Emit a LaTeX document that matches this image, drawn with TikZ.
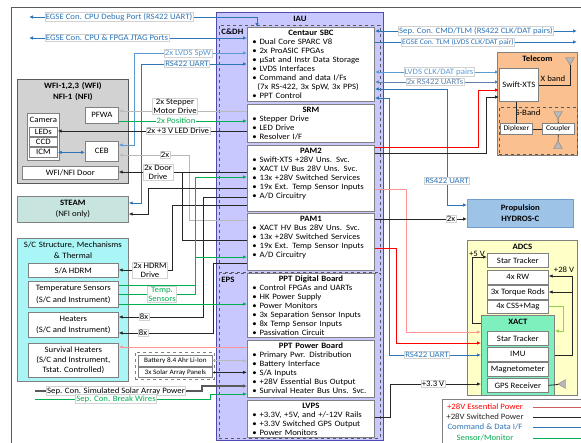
\documentclass[tikz,border=0pt]{standalone}
\usepackage{fontspec}
\setmainfont{Carlito}[FakeStretch=1.07]
\usetikzlibrary{arrows.meta, positioning, shapes.geometric}

\definecolor{cmdblue}{RGB}{46,117,182}
\definecolor{spwblue}{RGB}{91,155,213}
\definecolor{uartblue}{RGB}{95,130,170}
\definecolor{sensgreen}{RGB}{0,176,80}
\definecolor{cssgreen}{RGB}{146,208,80}
\definecolor{pwrblack}{RGB}{38,38,38}
\definecolor{essred}{RGB}{255,0,0}
\definecolor{pinkred}{RGB}{255,150,150}
\definecolor{legred}{RGB}{200,95,95}
\definecolor{iaufill}{RGB}{200,200,255}
\definecolor{wfifill}{RGB}{210,210,210}
\definecolor{steamfill}{RGB}{200,228,222}
\definecolor{scfill}{RGB}{170,245,245}
\definecolor{telfill}{RGB}{250,192,143}
\definecolor{propfill}{RGB}{157,195,230}
\definecolor{adcsfill}{RGB}{255,255,200}
\definecolor{xactfill}{RGB}{125,240,190}

\newcommand{\fsz}{\fontsize{8.2}{9}\selectfont}
\newcommand{\fsm}{\fontsize{7.2}{9}\selectfont}
\newcommand{\ttl}[1]{\hfill\textbf{#1}\hfill\null}
\newcommand{\bul}{\hspace*{2pt}\textbullet\ }

\begin{document}
\begin{tikzpicture}[x=1pt, y=-1pt,
  >={Latex[length=4pt,width=3.5pt]},
  every node/.style={font=\fsz},
  grp/.style={draw=gray, line width=0.8pt, anchor=north west, align=center,
    inner sep=2pt, text height=7pt},
  ibox/.style={draw=gray, line width=0.9pt, fill=white, anchor=north west,
    align=left, inner xsep=3pt, inner ysep=2pt, text width=121pt, text height=6pt},
  sbox/.style={draw=gray, line width=0.7pt, fill=white, anchor=north west,
    align=center, inner sep=0.5pt},
  lbl/.style={fill=white, draw=gray!35, line width=0.4pt, inner sep=0.8pt, align=center},
  ant/.style={regular polygon, regular polygon sides=3, fill=gray!55, draw=gray,
    inner sep=0pt, minimum size=10pt},
  wire/.style={line width=0.8pt},
  cmd/.style={wire, draw=cmdblue},
  spw/.style={wire, draw=spwblue},
  uart/.style={wire, draw=uartblue},
  sens/.style={wire, draw=sensgreen},
  cssw/.style={wire, draw=cssgreen},
  pwr/.style={wire, draw=pwrblack},
  lgw/.style={wire, draw=gray!55},
  dgw/.style={line width=1.3pt, draw=gray!70!black},
  ess/.style={wire, draw=essred},
  lred/.style={wire, draw=pinkred}]
\useasboundingbox (0,0) rectangle (581,442);
\draw[gray!70!black, line width=0.8pt] (11,450) -- (11,7) -- (590,7);

% IAU
\node[grp, fill=iaufill, draw=gray!60!blue, text width=163pt, text depth=417pt,
  font=\fsz\bfseries] (iau) at (216,12) {IAU};
\node[grp, dashed, draw=gray!70!black, align=left, text width=157pt,
  text depth=236pt] (cdh) at (219,25) {\textbf{C\&DH}};
\node[grp, dashed, draw=gray!70!black, align=left, text width=157pt,
  text depth=154pt] (eps) at (219,273) {\textbf{EPS}};

\node[ibox, text depth=64pt] (sbc) at (247,27) {\ttl{Centaur SBC}\\
  \bul Dual Core SPARC V8\\
  \bul 2x ProASIC FPGAs\\
  \bul µSat and Instr Data Storage\\
  \bul LVDS Interfaces\\
  \bul Command and data I/Fs\\
  \hspace*{7pt}(7x RS-422, 3x SpW, 3x PPS)\\
  \bul PPT Control};
\node[ibox, text depth=28pt] (srm) at (247,104) {\ttl{SRM}\\
  \bul Stepper Drive\\
  \bul LED Drive\\
  \bul Resolver I/F};
\node[ibox, text depth=56pt] (pam2) at (247,145) {\ttl{PAM2}\\
  \bul Swift-XTS +28V Uns. Svc.\\
  \bul XACT LV Bus 28V Uns. Svc.\\
  \bul 13x +28V Switched Services\\
  \bul 19x Ext. Temp Sensor Inputs\\
  \bul A/D Circuitry};
\node[ibox, text depth=47pt] (pam1) at (247,213) {\ttl{PAM1}\\
  \bul XACT HV Bus 28V Uns. Svc.\\
  \bul 13x +28V Switched Services\\
  \bul 19x Ext. Temp Sensor Inputs\\
  \bul A/D Circuitry};
\node[ibox, text depth=54pt] (pptd) at (247,273) {\ttl{PPT Digital Board}\\
  \bul Control FPGAs and UARTs\\
  \bul HK Power Supply\\
  \bul Power Monitors\\
  \bul 3x Separation Sensor Inputs\\
  \bul 8x Temp Sensor Inputs\\
  \bul Passivation Circuit};
\node[ibox, text depth=47pt] (pptp) at (247,340) {\ttl{PPT Power Board}\\
  \bul Primary Pwr. Distribution\\
  \bul Battery Interface\\
  \bul S/A Inputs\\
  \bul +28V Essential Bus Output\\
  \bul Survival Heater Bus Uns. Svc.};
\node[ibox, text depth=27pt] (lvps) at (247,400) {\ttl{LVPS}\\
  \bul +3.3V, +5V, and +/-12V Rails\\
  \bul +3.3V Switched GPS Output\\
  \bul Power Monitors};

% WFI / NFI
\node[grp, fill=wfifill, draw=gray!70!black, text width=107pt, text depth=93pt,
  font=\fsz\bfseries] (wfi) at (17,79) {WFI-1,2,3 (WFI)\\[2pt]NFI-1 (NFI)};
\node[sbox, minimum width=33pt, minimum height=16pt] (pfwa) at (85,107) {PFWA};
\node[grp, fill=white, minimum width=32pt, text depth=36pt, inner xsep=0pt] (cam) at (27,113) {Camera};
\node[sbox, minimum width=28pt, minimum height=9pt] (leds) at (29,127) {LEDs};
\node[sbox, minimum width=28pt, minimum height=9pt] (ccd) at (29,137) {CCD};
\node[sbox, minimum width=28pt, minimum height=10pt] (icm) at (29,147) {ICM};
\node[sbox, minimum width=33pt, minimum height=20pt] (ceb) at (85,141) {CEB};
\node[sbox, minimum width=96pt, minimum height=13pt] (door) at (22,166) {WFI/NFI Door};

\node[sbox, fill=steamfill, minimum width=111pt, minimum height=26pt]
  (steam) at (17,196) {\textbf{STEAM}\\[2pt](NFI only)};

% S/C structure
\node[grp, fill=scfill, text width=109pt, inner xsep=1pt, text depth=132pt] (scs) at (17,238)
  {S/C Structure, Mechanisms\\[2pt]\& Thermal};
\node[sbox, minimum width=90pt, minimum height=14pt] (hdrm) at (28,263) {S/A HDRM};
\node[sbox, minimum width=90pt, minimum height=26pt] (temp) at (28,281)
  {Temperature Sensors\\[3pt](S/C and Instrument)};
\node[sbox, minimum width=90pt, minimum height=25pt] (heat) at (28,312)
  {Heaters\\[2pt](S/C and Instrument)};
\node[sbox, minimum width=90pt, minimum height=34pt] (surv) at (28,343)
  {Survival Heaters\\[1pt](S/C and Instrument,\\[1pt]Tstat. Controlled)};

\node[draw=gray, dashed, line width=0.7pt, anchor=north west, minimum width=79pt,
  minimum height=27pt] (batgrp) at (135,352) {};
\node[sbox, font=\fontsize{6.8}{8}\selectfont, minimum width=74pt, minimum height=11pt]
  (bat) at (138,355) {Battery 8.4 Ahr Li-Ion};
\node[sbox, font=\fontsize{6.8}{8}\selectfont, minimum width=74pt, minimum height=10pt]
  (sol) at (138,367) {3x Solar Array Panels};

% Telecom
\node[grp, fill=telfill, text width=76pt, text depth=92pt, font=\fsz\bfseries]
  (tel) at (497,52) {Telecom};
\node[sbox, minimum width=39pt, minimum height=33pt] (xts) at (499,68) {Swift-XTS};
\node[draw=gray!70!black, dashed, line width=0.6pt, anchor=north west,
  minimum width=78pt, minimum height=47pt] (sband) at (499,107) {};
\node (sbl) at (528,113) {S-Band};
\node[sbox, minimum width=32pt, minimum height=11pt, font=\fsm] (dipl) at (500,123) {Diplexer};
\node[sbox, minimum width=32pt, minimum height=11pt, font=\fsm] (coup) at (542,123) {Coupler};
\node[ant, shape border rotate=180] (antx) at (570,60) {};
\node[ant, shape border rotate=180] (ants) at (558,114) {};
\node[ant] (antb) at (558,146) {};
\node (xbl) at (553,79) {X band};

% Propulsion
\node[sbox, fill=propfill, draw=cmdblue!70, minimum width=106pt, minimum height=28pt,
  font=\fsz\bfseries] (prop) at (467,199) {Propulsion\\[2pt]HYDROS-C};

% ADCS
\node[grp, fill=adcsfill, text width=106pt, text depth=144pt, font=\fsz\bfseries]
  (adcs) at (467,240) {ADCS};
\node[sbox, minimum width=61pt, minimum height=14pt] (st1) at (487,253) {Star Tracker};
\node[sbox, minimum width=61pt, minimum height=14pt] (rw) at (487,270) {4x RW};
\node[sbox, minimum width=61pt, minimum height=14pt] (tr) at (487,285) {3x Torque Rods};
\node[sbox, minimum width=61pt, minimum height=13pt] (css) at (487,300) {4x CSS+Mag};
\node[grp, fill=xactfill, text width=69pt, text depth=69pt, font=\fsz\bfseries]
  (xact) at (481,315) {XACT};
\node[sbox, minimum width=61pt, minimum height=14pt] (st2) at (487,331) {Star Tracker};
\node[sbox, minimum width=61pt, minimum height=14pt] (imu) at (487,347) {IMU};
\node[sbox, minimum width=61pt, minimum height=14pt] (mag) at (487,362) {Magnetometer};
\node[sbox, minimum width=61pt, minimum height=14pt] (gps) at (487,378) {GPS Receiver};
\node[ant, shape border rotate=90] (antg) at (563,384) {};
\node (p5v) at (477,254) {+5 V};
\node (p28v) at (564,270) {+28 V};

% connectors, left side
\coordinate (egdbg) at (29,17);
\coordinate (egjtag) at (29,38);
\coordinate (simpw) at (35,391);
\coordinate (brkw) at (35,399);
\draw[cmd,<->] (egdbg) -| ([xshift=10pt]sbc.north west);
\draw[cmd,<->] (egjtag) -- (sbc.west |- egjtag);
\draw[spw,<->] (ceb.east |- 0,145) -| (134,53) -- (sbc.west |- 0,53);
\draw[cmd,<->] (steam.east |- 0,203) -| (141,64) -- (sbc.west |- 0,64);
\draw[cmd,<->] (icm.east) -- (ceb.west |- icm.east);
\draw[lgw,->] (srm.west |- 0,111) -- (pfwa.east |- 0,111);
\draw[sens,->] (pfwa.east |- 0,121) -- (srm.west |- 0,121);
\draw[pwr,->] (srm.west |- 0,131) -- (leds.east |- 0,131);
\draw[lgw,->] (pam1.west |- 0,220) -| (189,155) -- (ceb.east |- 0,155);
\draw[pwr,->] (pam2.west |- 0,172) -- (door.east |- 0,172);
\draw[pwr] (pam1.west |- 0,240) -| (182,172);
\draw[pwr,->] (pam2.west |- 0,188) -| (148,214) -- (steam.east |- 0,214);
\draw[pwr,->] (pam2.west |- 0,197) -| (203,317) -- (heat.east |- 0,317);
\draw[pwr,->] (pam2.west |- 0,205) -| (172,270) -- (hdrm.east |- 0,270);
\draw[pwr,->] (pam1.west |- 0,263) -| (213,333) -- (heat.east |- 0,333);
\draw[sens,->] (temp.east |- 0,294) -| (195,177) -- (pam2.west |- 0,177);
\draw[sens] (temp.east |- 0,285) -- (195,285);
\draw[sens,->] (195,257) -- (pam1.west |- 0,257);
\draw[sens,->] (temp.east |- 0,304) -- (pptd.west |- 0,304);
\draw[lred,->] (pptp.west |- 0,347) -- (surv.east |- 0,347);
\draw[lgw,->] (bat.east) -- (pptp.west |- bat.east);
\draw[pwr,->] (sol.east) -- (pptp.west |- sol.east);
\draw[dgw,->] (simpw) -| (202,386) -- (pptp.west |- 0,386);
\draw[sens,->] (brkw) -| (210,394) -- (pptp.west |- 0,394);

% connectors, right side
\coordinate (sepcon) at (577,31);
\coordinate (egtlm) at (577,42);
\draw[cmd,<->] (sbc.east |- sepcon) -- (sepcon);
\draw[cmd,->] (sbc.east |- egtlm) -- (egtlm);
\draw[spw,<->] (sbc.east |- 0,72) -- (xts.west |- 0,72);
\draw[uart,<->] (sbc.east |- 0,82) -- (xts.west |- 0,82);
\draw[cmd,<->] (sbc.east |- 0,89) -| (447,205) -- (prop.west |- 0,205);
\draw[cmd,<->] (sbc.east |- 0,98) -| (389,355) -- (xact.west |- 0,355);
\draw[ess,->] (pam2.east |- 0,147) -| (478,90) -- (xts.west |- 0,90);
\draw[pwr,->] (pam2.east |- 0,153) -| (486,97) -- (xts.west |- 0,97);
\draw[lred,->] (pam2.east |- 0,189) -| (406,332) -- (xact.west |- 0,332);
\draw[ess,->] (pam1.east |- 0,248) -| (396,343) -- (xact.west |- 0,343);
\draw[pwr,->] (pam1.east |- 0,219) -- (prop.west |- 0,219);
\draw[pwr,->] (lvps.east |- 0,417) -| (390,384) -- (xact.west |- 0,384);

% telecom and ADCS inside
\draw[pwr, line width=0.6pt] (xts.east |- 0,85) -| (antx);
\draw[pwr, line width=0.6pt] (xts.south -| dipl.north) -- (dipl.north);
\draw[pwr, line width=0.6pt] (dipl) -- (coup);
\draw[pwr, line width=0.6pt] (coup) -- (ants);
\draw[pwr, line width=0.6pt] (coup) -- (antb);
\coordinate (trj) at (572,292);
\draw[pwr,->] (xact.west |- 0,323) -| (472,257) -- (st1.west |- 0,257);
\draw[pwr,->] (xact.east |- 0,355) -| (572,276) -- (rw.east |- 0,276);
\draw[pwr,->] (trj) -- (tr.east |- trj);
\draw[cssw,->] (css.east) -| (563,331) -- (xact.east |- 0,331);
\draw[pwr] (gps.east) -- (antg);

% labels on the connectors
\node[lbl, text=cmdblue] (l1) at (119,17) {EGSE Con. CPU Debug Port (RS422 UART)};
\node[lbl, text=cmdblue] (l2) at (107,38) {EGSE Con. CPU \& FPGA JTAG Ports};
\node[lbl, text=spwblue] (l3) at (188,53) {2x LVDS SpW};
\node[lbl, text=cmdblue] (l4) at (187,64) {RS422 UART};
\node[lbl] (l5) at (175,106) {2x Stepper\\Motor Drive};
\node[lbl, text=sensgreen, draw=none] (l6) at (176,121) {2x Position};
\node[lbl] (l7) at (178,131) {2x +3 V LED Drive};
\node[lbl] (l8) at (165,155) {2x};
\node[lbl] (l9) at (158,172) {2x Door\\Drive};
\node[lbl] (l10) at (150,270) {2x HDRM\\Drive};
\node[lbl, text=sensgreen] (l11) at (162,294) {Temp.\\Sensors};
\node[lbl] (l12) at (144,317) {8x};
\node[lbl] (l13) at (143,333) {8x};
\node[lbl] (l14) at (116,391) {Sep. Con. Simulated Solar Array Power};
\node[lbl, text=sensgreen] (l15) at (116,399) {Sep. Con. Break Wires};
\node[lbl, text=cmdblue] (r1) at (476,31) {Sep. Con. CMD/TLM (RS422 CLK/DAT pairs)};
\node[lbl, text=cmdblue, font=\fsm] (r2) at (458,42) {EGSE Con. TLM (LVDS CLK/DAT pair)};
\node[lbl, text=spwblue] (r3) at (439,72) {LVDS CLK/DAT pairs};
\node[lbl, text=uartblue] (r4) at (435,82) {2x RS422 UARTs};
\node[lbl, text=cmdblue] (r5) at (447,181) {RS422 UART};
\node[lbl] (r6) at (451,219) {2x};
\node[lbl, text=cmdblue] (r7) at (427,355) {RS422 UART};
\node[lbl] (r8) at (433,384) {+3.3 V};

% legend
\node[draw=gray, line width=0.7pt, fill=white, anchor=north west, minimum width=150pt,
  minimum height=50pt] (legend) at (442,399) {};
\node[text=essred] (lg1) at (485,407) {+28V Essential Power};
\node[text=pwrblack] (lg2) at (485,417) {+28V Switched Power};
\node[text=cmdblue] (lg3) at (485,427) {Command \& Data I/F};
\node[text=sensgreen] (lg4) at (485,438) {Sensor/Monitor};
\foreach \n/\c in {lg1/legred, lg2/pwrblack, lg3/cmdblue, lg4/sensgreen}
  \draw[\c, line width=1pt] (533,0 |- \n) -- (590,0 |- \n);
\end{tikzpicture}
\end{document}
